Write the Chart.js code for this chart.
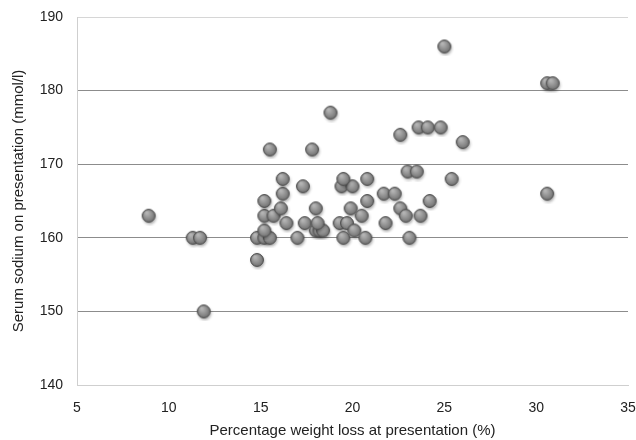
<!DOCTYPE html>
<html>
<head>
<meta charset="utf-8">
<script src="https://cdn.jsdelivr.net/npm/chart.js@4"></script>
<style>
  body { margin: 0; background: #fff; }
  #wrap { width: 636px; height: 440px; }
</style>
</head>
<body>
<div id="wrap"><canvas id="myChart" width="636" height="440"></canvas></div>
<script>
// weight loss (%) and serum sodium (mmol/l)
const weightLoss = [
  8.9, 11.3, 11.7, 11.9, 14.8, 14.8, 15.2, 15.5, 15.2, 15.2, 15.7, 15.2,
  16.1, 16.2, 16.2, 15.5, 17.8, 16.4, 17.0, 17.3, 17.4, 18.0, 18.0, 18.2,
  18.4, 18.1, 18.8, 19.3, 19.7, 19.4, 20.0, 19.5, 19.5, 19.9, 20.1, 20.5,
  20.7, 20.8, 20.8, 21.7, 22.3, 21.8, 22.6, 22.6, 22.9, 23.0, 23.5, 23.1,
  23.6, 24.1, 24.8, 23.7, 24.2, 25.0, 25.4, 26.0, 30.6, 30.9, 30.6
];
const sodium = [
  163, 160, 160, 150, 157, 160, 160, 160, 161, 163, 163, 165,
  164, 166, 168, 172, 172, 162, 160, 167, 162, 164, 161, 161,
  161, 162, 177, 162, 162, 167, 167, 168, 160, 164, 161, 163,
  160, 165, 168, 166, 166, 162, 164, 174, 163, 169, 169, 160,
  175, 175, 175, 163, 165, 186, 168, 173, 181, 181, 166
];
const yTicks = [140, 150, 160, 170, 180, 190];
const xTicks = [5, 10, 15, 20, 25, 30, 35];

const points = weightLoss.map((x, i) => ({ x: x, y: sodium[i] }));

// little shaded ball used as the marker
function makeBall() {
  const c = document.createElement('canvas');
  c.width = 20; c.height = 20;
  const g = c.getContext('2d');
  g.save();
  g.shadowColor = 'rgba(0,0,0,0.35)';
  g.shadowBlur = 3;
  g.shadowOffsetX = 1;
  g.shadowOffsetY = 2;
  g.beginPath();
  g.arc(10, 10, 6.4, 0, Math.PI * 2);
  g.fillStyle = '#7a7a7a';
  g.fill();
  g.restore();
  const grad = g.createRadialGradient(8, 7, 1, 10, 10, 7);
  grad.addColorStop(0, '#b4b4b4');
  grad.addColorStop(0.6, '#8a8a8a');
  grad.addColorStop(1, '#6a6a6a');
  g.beginPath();
  g.arc(10, 10, 6.4, 0, Math.PI * 2);
  g.fillStyle = grad;
  g.fill();
  g.lineWidth = 1;
  g.strokeStyle = '#4c4c4c';
  g.stroke();
  return c;
}
const ball = makeBall();

const ctx = document.getElementById('myChart');
new Chart(ctx, {
  type: 'scatter',
  data: {
    datasets: [{
      data: points,
      pointStyle: ball,
      pointRadius: 7,
    }]
  },
  options: {
    responsive: false,
    animation: false,
    events: [],
    layout: { padding: { left: 0, right: 7, top: 17, bottom: 0 } },
    plugins: { legend: { display: false }, tooltip: { enabled: false } },
    scales: {
      x: {
        type: 'linear',
        min: 5, max: 35,
        afterBuildTicks: s => { s.ticks = xTicks.map(v => ({ value: v })); },
        afterFit: s => { s.height = 55; s.paddingLeft = 0; s.paddingRight = 0; },
        grid: { display: false, drawTicks: false },
        border: { display: true, color: '#cfcfcf', width: 1 },
        ticks: { padding: 15, color: '#222', font: { family: 'Liberation Sans', size: 14 } },
        title: {
          display: true,
          text: 'Percentage weight loss at presentation (%)',
          color: '#222',
          font: { family: 'Liberation Sans', size: 15 },
          padding: { top: 0, bottom: 0 }
        }
      },
      y: {
        min: 140, max: 190,
        afterBuildTicks: s => { s.ticks = yTicks.map(v => ({ value: v })); },
        afterFit: s => { s.width = 77; s.paddingTop = 0; s.paddingBottom = 0; },
        grid: {
          drawTicks: false,
          color: c => (c.tick && (c.tick.value === 140 || c.tick.value === 190)) ? '#d6d6d6' : '#8c8c8c',
          lineWidth: 1
        },
        border: { display: true, color: '#cfcfcf', width: 1 },
        ticks: { padding: 14, color: '#222', font: { family: 'Liberation Sans', size: 14 } },
        title: {
          display: true,
          text: 'Serum sodium on presentation (mmol/l)',
          color: '#222',
          font: { family: 'Liberation Sans', size: 15 },
          padding: { top: 10, bottom: 0 }
        }
      }
    }
  }
});
</script>
</body>
</html>
